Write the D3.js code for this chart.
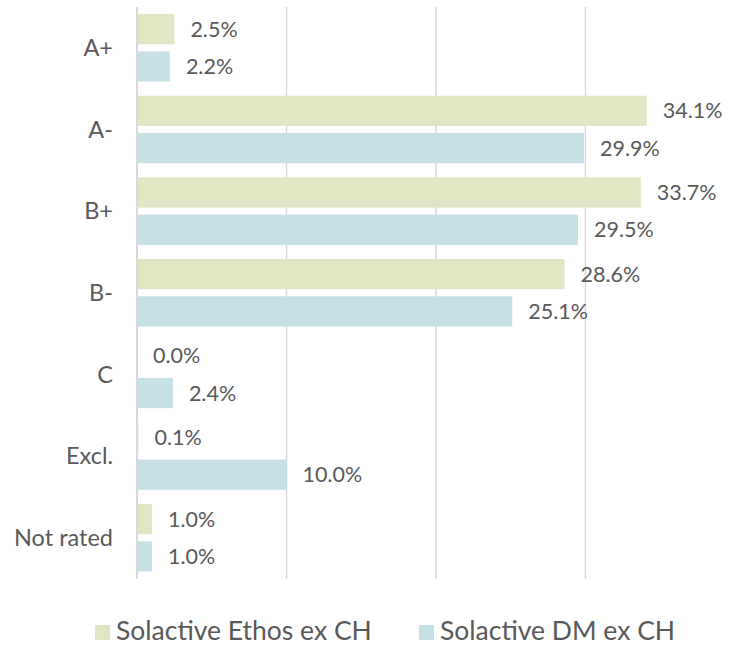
<!DOCTYPE html>
<html>
<head>
<meta charset="utf-8">
<script src="https://cdn.jsdelivr.net/npm/d3@7"></script>
<style>
    body { margin: 0; background: #fff; }
    svg text { font-family: Lato, "Open Sans", sans-serif; fill: #595959; }
</style>
</head>
<body>
<svg id="chart_svg"></svg>
<script>
// categories and series (values in %)
const categories = ["A+", "A-", "B+", "B-", "C", "Excl.", "Not rated"];
const seriesNames = ["Solactive Ethos ex CH", "Solactive DM ex CH"];
const ethosValues = [2.5, 34.1, 33.7, 28.6, 0.0, 0.1, 1.0];
const dmValues = [2.2, 29.9, 29.5, 25.1, 2.4, 10.0, 1.0];
const gridTicks = [0, 10, 20, 30];
const colors = ["#e0e5c3", "#c5e1e6"];

const width = 730, height = 646;
const margin = {top: 7, left: 137, right: 0, bottom: 67};

const svg = d3.select("#chart_svg")
    .attr("width", width)
    .attr("height", height);

// scales
const x = d3.scaleLinear()
    .domain([0, 10])
    .range([margin.left, 286.5]);

const y = d3.scaleBand()
    .domain(categories)
    .range([margin.top, height - margin.bottom - 0.5]);

const ySub = d3.scaleBand()
    .domain([0, 1])
    .range([0, y.bandwidth()])
    .paddingInner(0.19)
    .paddingOuter(0.19);

// gridlines
svg.append("g")
    .selectAll("line")
    .data(gridTicks)
    .enter()
    .append("line")
    .attr("x1", d => x(d))
    .attr("x2", d => x(d))
    .attr("y1", margin.top)
    .attr("y2", height - margin.bottom)
    .attr("stroke", "#d9d9d9")
    .attr("stroke-width", d => d === 0 ? 2 : 1.5);

// bars
const rows = categories.map((c, i) => ({cat: c, values: [ethosValues[i], dmValues[i]]}));

const groups = svg.append("g")
    .selectAll("g")
    .data(rows)
    .enter()
    .append("g")
    .attr("transform", d => `translate(0, ${y(d.cat)})`);

groups.selectAll("rect")
    .data(d => d.values.map((v, k) => ({v: v, k: k})))
    .enter()
    .append("rect")
    .attr("x", x(0) + 1)
    .attr("y", d => ySub(d.k))
    .attr("width", d => Math.max(0, x(d.v) - x(0) - 1))
    .attr("height", ySub.bandwidth())
    .attr("fill", d => colors[d.k]);

groups.selectAll("text.value")
    .data(d => d.values.map((v, k) => ({v: v, k: k})))
    .enter()
    .append("text")
    .attr("class", "value")
    .attr("x", d => x(d.v) + 16)
    .attr("y", d => ySub(d.k) + ySub.bandwidth() / 2)
    .attr("dy", "0.35em")
    .style("font-size", "21.5px")
    .text(d => d.v.toFixed(1) + "%");

// category labels
svg.append("g")
    .selectAll("text")
    .data(categories)
    .enter()
    .append("text")
    .attr("x", x(0) - 24)
    .attr("y", d => y(d) + y.bandwidth() / 2)
    .attr("dy", "0.35em")
    .attr("text-anchor", "end")
    .style("font-size", "23.5px")
    .text(d => d);

// legend
const legendX = [95, 419];
const legend = svg.append("g")
    .selectAll("g")
    .data(seriesNames)
    .enter()
    .append("g")
    .attr("transform", (d, i) => `translate(${legendX[i]}, 625)`);

legend.append("rect")
    .attr("width", 15)
    .attr("height", 15)
    .attr("fill", (d, i) => colors[i]);

legend.append("text")
    .attr("x", 21)
    .attr("y", 15)
    .style("font-size", "26.5px")
    .text(d => d);
</script>
</body>
</html>
